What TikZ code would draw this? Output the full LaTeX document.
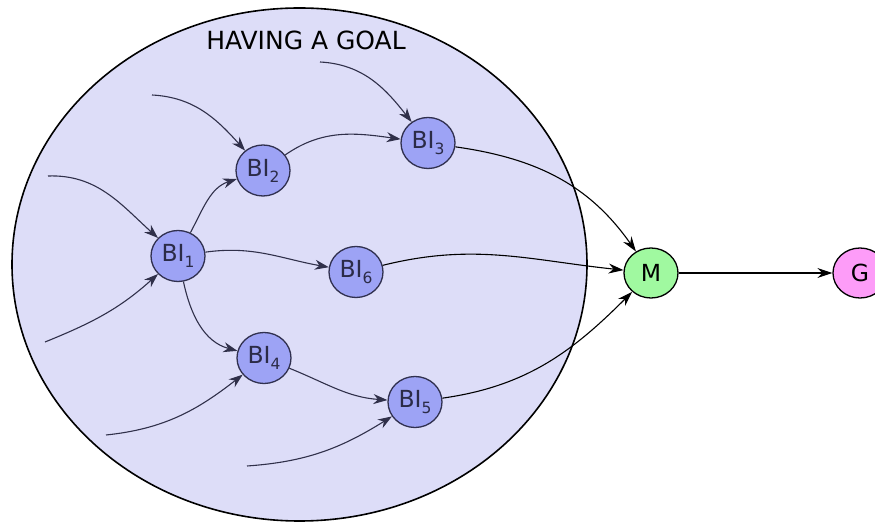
\documentclass[tikz,border=0pt]{standalone}
\usepackage{fontspec}
\setmainfont{DejaVu Sans}
\usetikzlibrary{arrows.meta,shapes.geometric}
\definecolor{goalbg}{HTML}{DDDDF8}
\definecolor{bifill}{HTML}{9DA3F5}
\definecolor{bidraw}{HTML}{30304F}
\definecolor{mfill}{HTML}{A0F9A0}
\definecolor{gfill}{HTML}{FD9CF8}
\definecolor{edgecol}{HTML}{30304A}
\newcommand{\bisub}[1]{\raisebox{-0.26em}{\fontsize{15.5}{15.5}\selectfont #1}}
\tikzset{
  x=1pt, y=1pt,
  bi/.style={ellipse, draw=bidraw, fill=bifill, line width=1.3pt,
    minimum width=54pt, minimum height=51pt, inner sep=0pt,
    font=\fontsize{23.5}{23.5}\selectfont, text=bidraw!90!black},
  endnode/.style={ellipse, draw=black, line width=1.3pt,
    minimum width=54pt, minimum height=50pt, inner sep=0pt,
    font=\fontsize{23.5}{23.5}\selectfont},
  link/.style={draw=edgecol, line width=1.1pt,
    -{Stealth[length=14pt, width=10pt, inset=4.5pt]}},
  blink/.style={draw=black, line width=1.1pt,
    -{Stealth[length=15pt, width=10pt, inset=5pt]}}
}
\begin{document}
\begin{tikzpicture}
  \useasboundingbox (0,0) rectangle (875,522);
  % the goal region
  \node[ellipse, draw=black, fill=goalbg, line width=1.6pt,
        minimum width=575pt, minimum height=513pt, inner sep=0pt] (goal) at (299.5,257.5) {};
  \node[font=\fontsize{25}{25}\selectfont] (title) at (306,482) {HAVING A GOAL};

  % belief nodes
  \node[bi] (b1) at (178,266) {BI\bisub{1}};
  \node[bi] (b2) at (263,351.5) {BI\bisub{2}};
  \node[bi] (b3) at (428,379) {BI\bisub{3}};
  \node[bi] (b6) at (356,250) {BI\bisub{6}};
  \node[bi] (b4) at (264,164) {BI\bisub{4}};
  \node[bi] (b5) at (415,120) {BI\bisub{5}};
  \node[endnode, fill=mfill] (m) at (651,249) {M};
  \node[endnode, fill=gfill] (g) at (860,249) {G};

  % free ends of the incoming links
  \coordinate (s1a) at (48,346);
  \coordinate (s1b) at (45,180);
  \coordinate (s2) at (152,427);
  \coordinate (s3) at (320,460);
  \coordinate (s4) at (106,87);
  \coordinate (s5) at (247,56);

  % incoming links
  \draw[link] (s1a) to[out=2, in=138] (b1);
  \draw[link] (s1b) to[out=22, in=222] (b1);
  \draw[link] (s2) to[out=-3, in=132] (b2);
  \draw[link] (s3) to[out=-3, in=128] (b3);
  \draw[link] (s4) to[out=6, in=218] (b4);
  \draw[link] (s5) to[out=4, in=212] (b5);

  % links between beliefs
  \draw[link] (b1) to[out=62, in=198] (b2);
  \draw[link] (b2) to[out=35, in=172] (b3);
  \draw[link] (b1) to[out=8, in=170] (b6);
  \draw[link] (b1) to[out=-78, in=165] (b4);
  \draw[link] (b4) to[out=-22, in=176] (b5);

  % links into M and on to G
  \draw[blink] (b3) to[out=-8, in=125] (m);
  \draw[blink] (b6) to[out=14, in=174] (m);
  \draw[blink] (b5) to[out=8, in=225] (m);
  \draw[blink] (m) -- (g);
\end{tikzpicture}
\end{document}
